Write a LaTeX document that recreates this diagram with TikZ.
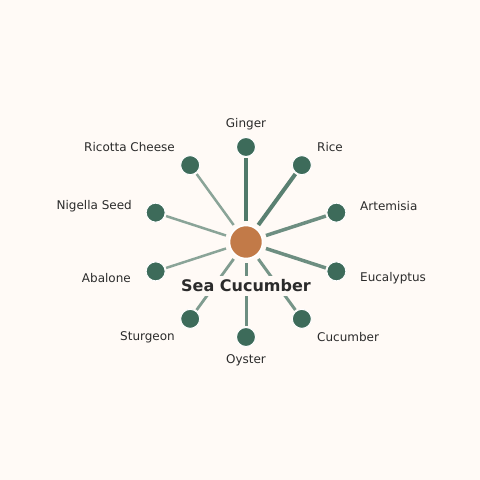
\documentclass[tikz,border=0pt]{standalone}
\usepackage{fontspec}
\setmainfont{DejaVu Sans}
\definecolor{bg}{HTML}{FFFAF6}
\definecolor{leaf}{HTML}{3D6B5A}
\definecolor{hub}{HTML}{C27A48}
\definecolor{ink}{HTML}{2B2B2B}
\begin{document}
\begin{tikzpicture}[x=1bp,y=-1bp,
  hubnode/.style={circle,fill=hub,draw=white,line width=1.5bp,minimum size=33bp,inner sep=0,outer sep=0},
  leafnode/.style={circle,fill=leaf,draw=white,line width=1bp,minimum size=19bp,inner sep=0,outer sep=0},
  lbl/.style={text=ink,font=\fontsize{12bp}{14bp}\selectfont,inner sep=0},
  edge/.style={draw=leaf,shorten <=4.5bp,shorten >=1.5bp}]
\fill[bg] (0,0) rectangle (480,480);
\useasboundingbox (0,0) rectangle (480,480);
\coordinate (o) at (246,242);
\node[hubnode] (c) at (o) {};
\foreach \n/\ang in {gi/90,ri/54,ar/18,eu/-18,cu/-54,oy/-90,st/-126,ab/-162,ni/162,rc/126}{
  \path (o) ++(\ang:95 and -95) coordinate (p\n);
}
% edges
\foreach \n/\w/\op in {gi/4.5/0.9,ri/4/0.85,ar/3.5/0.75,eu/3.5/0.75,cu/3/0.7,oy/3/0.75,st/2.8/0.65,ab/2.5/0.6,ni/2.5/0.6,rc/2.5/0.6}{
  \node[leafnode] (\n) at (p\n) {};
  \draw[edge,line width=\w bp,draw opacity=\op] (c) -- (\n);
}
\node[fill=bg,inner xsep=3bp,inner ysep=4bp,text=ink,font=\bfseries\fontsize{16bp}{19bp}\selectfont] (title) at (246,286) {Sea Cucumber};
\node[hubnode] at (o) {};
\foreach \n in {gi,ri,ar,eu,cu,oy,st,ab,ni,rc}{\node[leafnode] at (p\n) {};}
% labels
\node[lbl] (lgi) at (246,124.5) {Ginger};
\node[lbl,anchor=west] (lri) at (317,147.5) {Rice};
\node[lbl,anchor=west] (lar) at (360,206.5) {Artemisia};
\node[lbl,anchor=west] (leu) at (360,278.5) {Eucalyptus};
\node[lbl,anchor=west] (lcu) at (317,337.5) {Cucumber};
\node[lbl] (loy) at (246,360.5) {Oyster};
\node[lbl,anchor=east] (lst) at (175,337.5) {Sturgeon};
\node[lbl,anchor=east] (lab) at (131,278.5) {Abalone};
\node[lbl,anchor=east] (lni) at (132,206.5) {Nigella Seed};
\node[lbl,anchor=east] (lrc) at (175,147.5) {Ricotta Cheese};
\end{tikzpicture}
\end{document}
